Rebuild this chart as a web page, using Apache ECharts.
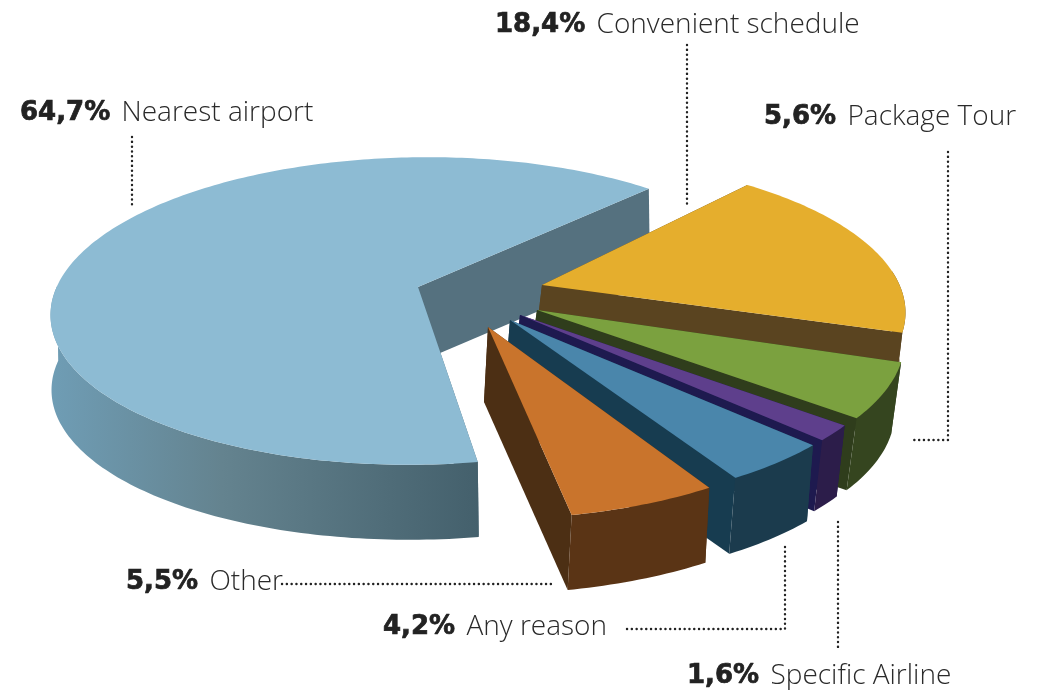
<!DOCTYPE html>
<html>
<head>
<meta charset="utf-8">
<title>Airport choice</title>
<script src="https://cdn.jsdelivr.net/npm/echarts@6/dist/echarts.min.js"></script>
<style>
  html, body { margin: 0; padding: 0; background: #fff; }
  #chart { width: 1042px; height: 690px; }
</style>
</head>
<body>
<div id="chart"></div>
<script>
const categories = ['Nearest airport', 'Convenient schedule', 'Package Tour', 'Specific Airline', 'Any reason', 'Other']
const values = [64.7, 18.4, 5.6, 1.6, 4.2, 5.5]

// slices run clockwise from here, degrees counter clockwise from 3 o'clock
const startAngle = 278
// how much the far side of the disc shrinks
const perspective = 0.156

// every slice was exploded by hand in the original, so each one has its own tip and scale
const sliceTips = [[418, 287], [542, 285], [537, 310], [520, 315], [510, 320], [488, 327]]
const sliceRadii = [[363, 150], [353, 148], [358, 155], [364, 157], [365, 157], [373, 162]]
const sliceSkew = [[0, 4], [-30, 9], [-27, 7], [-27, 6], [-27, 6], [-19, 10]]
const sliceDepth = [[1, 75], [-6, 50], [-10, 72], [-8, 71], [-6, 76], [-4, 75]]

const topColors = ['#8dbbd3', '#e5ae2d', '#7ba13f', '#5e3f8c', '#4a86ab', '#c9742c']
const cutColors = ['#55717f', '#5a4420', '#2f3d1c', '#1e1a4f', '#173c50', '#4c2f14']
const wallColors = [['#6f9db5', '#64838f', '#44606c'], ['#5a4420', '#5a4420', '#5a4420'], ['#35451f', '#35451f', '#35451f'],
  ['#2c1d4a', '#2c1d4a', '#2c1d4a'], ['#1b3b4d', '#1b3b4d', '#1b3b4d'], ['#5a3415', '#5a3415', '#5a3415']]

const labelAnchors = [[20, 113], [495, 25], [764, 117], [687, 676], [383, 627], [126, 582]]
const leaders = [
  [[132, 137], [132, 207]],
  [[687, 45], [687, 207]],
  [[948, 152], [948, 440], [914, 440]],
  [[838, 522], [838, 651]],
  [[627, 629], [785, 629], [785, 545]],
  [[282, 584], [551, 584]],
]

const total = values.reduce((a, b) => a + b, 0)

function project(i, deg) {
  const t = deg * Math.PI / 180
  const u = Math.cos(t)
  const v = Math.sin(t)
  const w = 1 + perspective * v
  return [
    sliceTips[i][0] + (sliceRadii[i][0] * u + sliceSkew[i][0] * v) / w,
    sliceTips[i][1] - (sliceRadii[i][1] * v + sliceSkew[i][1] * u) / w,
  ]
}

function down(i, p) {
  return [p[0] + sliceDepth[i][0], p[1] + sliceDepth[i][1]]
}

function renderSlice(params, api) {
  const i = params.dataIndex
  let from = startAngle
  for (let k = 0; k < i; k++) from -= values[k] / total * 360
  const to = from - api.value(0) / total * 360

  const angles = []
  for (let a = from; a > to; a -= 1) angles.push(a)
  angles.push(to)
  const arc = angles.map(a => project(i, a))

  const tip = sliceTips[i]
  const first = arc[0]
  const last = arc[arc.length - 1]
  // only the near half of the rim can be seen
  const rim = angles.filter(a => Math.sin(a * Math.PI / 180) < 0.05).map(a => project(i, a))
  const wall = rim.concat(rim.slice().reverse().map(p => down(i, p)))

  return {
    type: 'group',
    silent: true,
    children: [
      { type: 'polygon', shape: { points: [tip, first, down(i, first), down(i, tip)] }, style: { fill: cutColors[i] } },
      { type: 'polygon', shape: { points: [tip, last, down(i, last), down(i, tip)] }, style: { fill: cutColors[i] } },
      {
        type: 'polygon',
        shape: { points: wall },
        style: {
          fill: new echarts.graphic.LinearGradient(0, 0, 1, 0, [
            { offset: 0, color: wallColors[i][0] },
            { offset: 0.4, color: wallColors[i][1] },
            { offset: 1, color: wallColors[i][2] },
          ]),
        },
      },
      { type: 'polygon', shape: { points: [tip].concat(arc) }, style: { fill: topColors[i] } },
    ],
  }
}

const labelGraphics = categories.map((name, i) => ({
  type: 'text',
  x: labelAnchors[i][0],
  y: labelAnchors[i][1],
  silent: true,
  style: {
    text: `{b|${values[i].toFixed(1).replace('.', ',')}%} {r|${name}}`,
    verticalAlign: 'middle',
    rich: {
      b: { fontFamily: 'DejaVu Sans', fontWeight: 'bold', fontSize: 26, fill: '#222', stroke: '#222', lineWidth: 0.7 },
      r: { fontFamily: 'Open Sans', fontWeight: 300, fontSize: 28, fill: '#2a2a2a', padding: [0, 0, 0, 8] },
    },
  },
}))

const leaderGraphics = leaders.map(points => ({
  type: 'polyline',
  silent: true,
  shape: { points },
  style: { fill: 'none', stroke: '#222', lineWidth: 2.4, lineCap: 'round', lineDash: [0.1, 4.7] },
}))

const chart = echarts.init(document.getElementById('chart'))
chart.setOption({
  animation: false,
  backgroundColor: '#fff',
  graphic: leaderGraphics.concat(labelGraphics),
  series: [
    {
      type: 'custom',
      coordinateSystem: 'none',
      renderItem: renderSlice,
      data: values,
    },
  ],
})
</script>
</body>
</html>
